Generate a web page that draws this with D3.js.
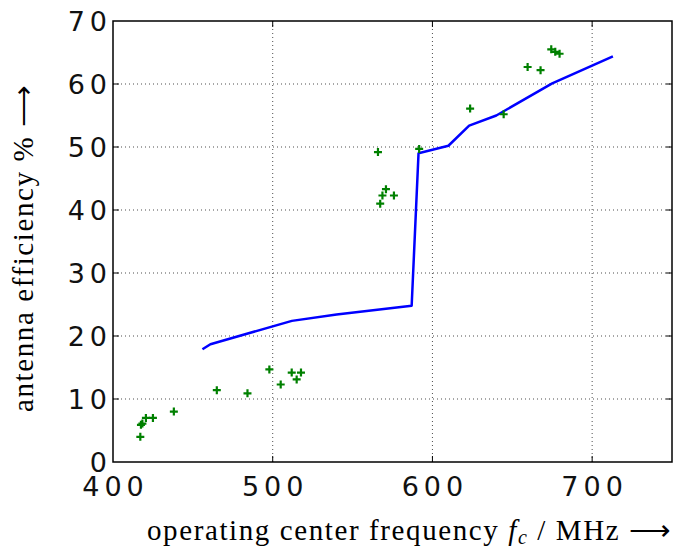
<!DOCTYPE html>
<html><head><meta charset="utf-8">
<script src="https://cdn.jsdelivr.net/npm/d3@7"></script>
<style>body{margin:0;background:#fff}svg{display:block}</style>
</head><body>
<svg id="chart" width="673" height="552"></svg>
<script>
const lineFreq = [456, 461, 512, 540, 587, 591.3, 610, 623, 640, 675, 713];
const lineEff  = [17.9, 18.7, 22.4, 23.4, 24.8, 49.0, 50.2, 53.4, 55.0, 60.1, 64.4];
const measFreq = [417.1, 417.5, 418.4, 420.6, 425, 438.1, 465, 484.2, 497.9, 505, 511.9, 515, 517.7,
                  565.9, 567.3, 568.7, 570.9, 575.9, 591.7, 623.6, 644.6, 659.6, 667.7, 674.4, 676.9, 679.6];
const measEff  = [4.0, 5.9, 6.1, 7.0, 7.0, 8.0, 11.4, 10.9, 14.7, 12.3, 14.2, 13.1, 14.2,
                  49.2, 41.0, 42.3, 43.3, 42.3, 49.7, 56.1, 55.2, 62.7, 62.2, 65.5, 65.1, 64.8];
const xTicks = [400, 500, 600, 700];
const yTicks = [0, 10, 20, 30, 40, 50, 60, 70];
const xLabel = "operating center frequency";
const yLabel = "antenna efficiency % \u27F6";

const svg = d3.select("#chart");
const L = 113, T = 21, R = 672, B = 462;
const x = d3.scaleLinear().domain([400, 750]).range([L, R]);
const y = d3.scaleLinear().domain([0, 70]).range([B, T]);

// grid
const g = svg.append("g");
g.selectAll(".gx").data(xTicks.slice(1)).join("line")
  .attr("x1", d => x(d)).attr("x2", d => x(d)).attr("y1", T).attr("y2", B)
  .attr("stroke", "#000").attr("stroke-width", 0.7).attr("stroke-dasharray", "1,3");
g.selectAll(".gy").data(yTicks.slice(1, -1)).join("line")
  .attr("y1", d => y(d)).attr("y2", d => y(d)).attr("x1", L).attr("x2", R)
  .attr("stroke", "#000").attr("stroke-width", 0.7).attr("stroke-dasharray", "1,3");

// line
const lineData = lineFreq.map((f, i) => [f, lineEff[i]]);
svg.append("path").datum(lineData)
  .attr("d", d3.line().x(d => x(d[0])).y(d => y(d[1])))
  .attr("fill", "none").attr("stroke", "#0000ff").attr("stroke-width", 2.5)
  .attr("stroke-linejoin", "round");

// markers
const pts = measFreq.map((f, i) => [f, measEff[i]]);
const ms = 4;
svg.append("g").selectAll("path").data(pts).join("path")
  .attr("d", d => `M${x(d[0]) - ms},${y(d[1])}H${x(d[0]) + ms}M${x(d[0])},${y(d[1]) - ms}V${y(d[1]) + ms}`)
  .attr("stroke", "#008000").attr("stroke-width", 2.2);

// ticks (inside, all four sides)
const tl = 6;
const tk = svg.append("g").attr("stroke", "#000").attr("stroke-width", 1);
xTicks.slice(1).forEach(v => {
  tk.append("line").attr("x1", x(v)).attr("x2", x(v)).attr("y1", B).attr("y2", B - tl);
  tk.append("line").attr("x1", x(v)).attr("x2", x(v)).attr("y1", T).attr("y2", T + tl);
});
yTicks.slice(1, -1).forEach(v => {
  tk.append("line").attr("y1", y(v)).attr("y2", y(v)).attr("x1", L).attr("x2", L + tl);
  tk.append("line").attr("y1", y(v)).attr("y2", y(v)).attr("x1", R).attr("x2", R - tl);
});

// frame
svg.append("rect").attr("x", L).attr("y", T).attr("width", R - L).attr("height", B - T)
  .attr("fill", "none").attr("stroke", "#000").attr("stroke-width", 1.5);

// tick labels
const ls = 5;
const tf = {"font-family": "DejaVu Sans", "font-size": "27px", "letter-spacing": ls + "px", "fill": "#111"};
const yl = svg.append("g").selectAll("text").data(yTicks).join("text")
  .attr("x", L - 6 + ls).attr("y", d => y(d) + 10).attr("text-anchor", "end").text(d => d);
const xl = svg.append("g").selectAll("text").data(xTicks).join("text")
  .attr("x", d => x(d) + ls / 2).attr("y", 496).attr("text-anchor", "middle").text(d => d);
[yl, xl].forEach(s => Object.entries(tf).forEach(([k, v]) => s.attr(k, v)));

// axis labels
const sf = "Liberation Serif";
const xt = svg.append("text").attr("x", 147).attr("y", 540).attr("text-anchor", "start")
  .attr("font-family", sf).attr("font-size", "29px").attr("letter-spacing", "1.6px");
xt.append("tspan").text(xLabel + " ");
xt.append("tspan").attr("font-style", "italic").text("f");
xt.append("tspan").attr("font-style", "italic").attr("font-size", "20px").attr("dy", 4).text("c");
xt.append("tspan").attr("dy", -4).text(" / MHz \u27F6");

svg.append("text").attr("transform", "translate(33,412) rotate(-90)").attr("text-anchor", "start")
  .attr("font-family", sf).attr("font-size", "29px").attr("letter-spacing", "1.6px").text(yLabel);
</script>
</body></html>
